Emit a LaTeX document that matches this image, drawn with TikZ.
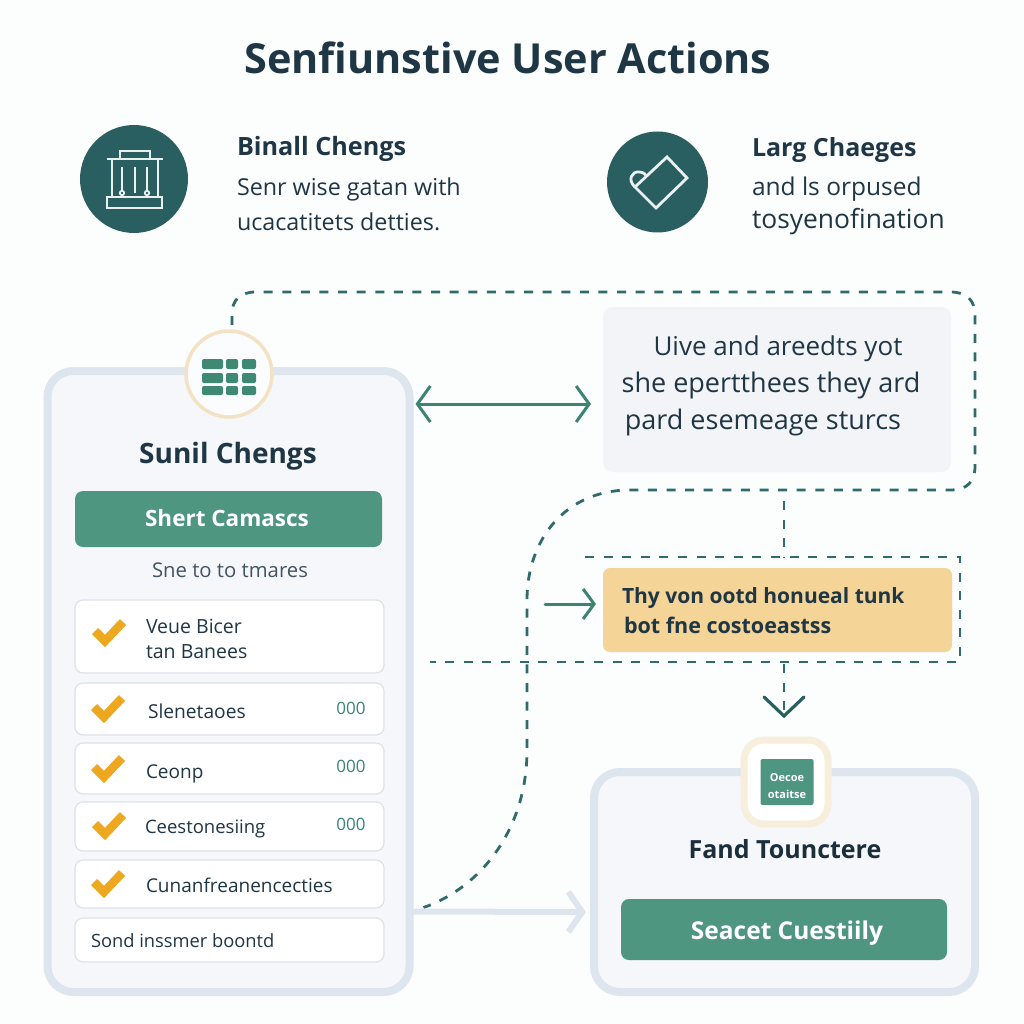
\documentclass[tikz,border=0pt]{standalone}
\usepackage{fontspec}
\setmainfont{Open Sans}
\usetikzlibrary{arrows.meta}
\definecolor{ink}{HTML}{1F3645}
\definecolor{teal}{HTML}{2A5F61}
\definecolor{dashc}{HTML}{2F6B6B}
\definecolor{green}{HTML}{4F9680}
\definecolor{arrowg}{HTML}{3B8470}
\definecolor{pale}{HTML}{DDE6EE}
\definecolor{panelf}{HTML}{F6F7FA}
\definecolor{msgf}{HTML}{F3F4F7}
\definecolor{rowb}{HTML}{DDE2E9}
\definecolor{gold}{HTML}{EDA81F}
\definecolor{sand}{HTML}{F5D498}
\definecolor{ring}{HTML}{F3E3C4}
\definecolor{icong}{HTML}{3F8872}
\tikzset{
 px/.style={outer sep=0pt,inner sep=0pt},
 txt/.style={px,text=ink,anchor=west,align=left,yshift=-2pt},
 mid/.style={px,text=ink,anchor=center,align=center,yshift=-2pt},
 panel/.style={px,draw=pale,line width=8pt,fill=panelf,rounded corners=26pt},
 bar/.style={px,fill=green,rounded corners=8pt},
 rowbox/.style={px,draw=rowb,line width=1.2pt,fill=white,rounded corners=8pt},
 disc/.style={px,circle,fill=teal},
 flow/.style={dashc,line width=2.8pt,dash pattern=on 9pt off 9.6pt},
 barb/.style={arrowg,line width=3pt,line cap=round},
 checkm/.style={gold,line width=8.5pt,line join=miter},
 iconl/.style={white!90!teal,line width=2.8pt}
}
\newcommand{\rowcheck}[2]{\draw[checkm] (#1-13,#2-3) -- (#1-3,#2+7) -- (#1+15,#2-12);}
\begin{document}
\begin{tikzpicture}[x=1pt,y=-1pt]
\useasboundingbox (0,0) rectangle (1024,1024);
\fill[white!70!panelf] (0,0) rectangle (1024,1024);

% title
\node[mid,font=\bfseries\fontsize{41.4}{46}\selectfont,text=ink] (title) at (508,56) {Senfiunstive User Actions};

% top icons
\node[disc,minimum size=108pt] (disc1) at (134,179) {};
\draw[iconl] (120,159) -- (120,151) -- (150,151) -- (150,159);
\draw[iconl] (107,159) -- (163,159);
\draw[iconl] (112,159) -- (112,197) (158,159) -- (158,197);
\draw[iconl] (122,167) -- (122,192) (135,167) -- (135,193) (147,167) -- (147,192);
\draw[iconl] (107,197) rectangle (162,208);
\draw[iconl,line width=1.8pt] (122,193) circle (2.2) (147,193) circle (2.2);
\node[disc,minimum size=101pt] (disc2) at (657.5,182) {};
\draw[iconl] (667,157) -- (687,178) -- (656,208) -- (635,187) -- cycle;
\draw[iconl] (635,187) .. controls (627,180) and (632,171) .. (639,172) .. controls (644,172) and (646,175) .. (647,177);

\node[txt,font=\bfseries\fontsize{25.2}{30}\selectfont] (h1) at (237,147) {Binall Chengs};
\node[txt,font=\fontsize{23.3}{30}\selectfont] (b1a) at (237,187) {Senr wise gatan with};
\node[txt,font=\fontsize{23.3}{30}\selectfont] (b1b) at (237,220) {ucacatitets detties.};
\node[txt,font=\bfseries\fontsize{25}{30}\selectfont] (h2) at (752,148) {Larg Chaeges};
\node[txt,font=\fontsize{24.5}{30}\selectfont] (b2a) at (752,187) {and ls orpused};
\node[txt,font=\fontsize{26.4}{30}\selectfont] (b2b) at (752,220) {tosyenofination};

% left panel
\node[panel,minimum width=362pt,minimum height=621pt] (leftp) at (228.5,681.5) {};
\node[px,circle,draw=ring,line width=3.5pt,fill=white!60!panelf,minimum size=86pt] (badge) at (229,374) {};
\foreach \y/\h in {359/10,373/10,386/9}{
 \fill[icong,rounded corners=2pt] (202,\y) rectangle (223,\y+\h);
 \fill[icong,rounded corners=2pt] (226,\y) rectangle (238,\y+\h);
 \fill[icong,rounded corners=2pt] (242,\y) rectangle (256,\y+\h);
}
\node[mid,font=\bfseries\fontsize{28}{32}\selectfont] (lt) at (228,454) {Sunil Chengs};
\node[bar,minimum width=307pt,minimum height=56pt] (lbar) at (228.5,519) {};
\node[mid,text=white,font=\bfseries\fontsize{22.5}{28}\selectfont] (lbart) at (227,516) {Shert Camascs};
\node[mid,font=\fontsize{20.3}{24}\selectfont,text=ink!85] (lsub) at (230,568) {Sne to to tmares};

\node[rowbox,minimum width=309pt,minimum height=73pt] (r1) at (229.5,636.5) {};
\node[rowbox,minimum width=309pt,minimum height=52pt] (r2) at (229.5,709) {};
\node[rowbox,minimum width=309pt,minimum height=51pt] (r3) at (229.5,768.5) {};
\node[rowbox,minimum width=309pt,minimum height=49pt] (r4) at (229.5,826.5) {};
\node[rowbox,minimum width=309pt,minimum height=48pt] (r5) at (229.5,884) {};
\node[rowbox,minimum width=309pt,minimum height=44pt] (r6) at (229.5,940) {};
\rowcheck{108}{634}
\rowcheck{107}{710}
\rowcheck{107}{770}
\rowcheck{108}{827}
\rowcheck{107}{885}
\node[txt,font=\fontsize{19.5}{24}\selectfont] (t1a) at (146,624) {Veue Bicer};
\node[txt,font=\fontsize{19.5}{24}\selectfont] (t1b) at (146,650) {tan Banees};
\node[txt,font=\fontsize{19.2}{24}\selectfont] (t2) at (148,709) {Slenetaoes};
\node[txt,font=\fontsize{19}{24}\selectfont] (t3) at (146,772) {Ceonp};
\node[txt,font=\fontsize{18.5}{24}\selectfont] (t4) at (145,827) {Ceestonesiing};
\node[txt,font=\fontsize{19}{24}\selectfont] (t5) at (146,883) {Cunanfreanencecties};
\node[txt,font=\fontsize{18.3}{24}\selectfont] (t6) at (91,939) {Sond inssmer boontd};
\node[mid,text=arrowg,font=\fontsize{17}{20}\selectfont] (n2) at (351,706) {000};
\node[mid,text=arrowg,font=\fontsize{17}{20}\selectfont] (n3) at (351,764) {000};
\node[mid,text=arrowg,font=\fontsize{17}{20}\selectfont] (n4) at (351,822) {000};

% right boxes
\node[px,fill=msgf,rounded corners=10pt,minimum width=348pt,minimum height=165pt] (msg) at (777,389.5) {};
\node[mid,font=\fontsize{26}{30}\selectfont] (m1) at (778,347) {Uive and areedts yot};
\node[mid,font=\fontsize{27}{30}\selectfont] (m2) at (771,383) {she epertthees they ard};
\node[mid,font=\fontsize{27}{30}\selectfont] (m3) at (763,420) {pard esemeage sturcs};
\node[px,fill=sand,rounded corners=7pt,minimum width=349pt,minimum height=84pt] (warn) at (777.5,610) {};
\node[txt,font=\bfseries\fontsize{21}{26}\selectfont] (w1) at (622,596) {Thy von ootd honueal tunk};
\node[txt,font=\bfseries\fontsize{21.5}{26}\selectfont] (w2) at (624,623) {bot fne costoeastss};

% bottom right panel
\node[panel,minimum width=381pt,minimum height=220pt] (endp) at (784.5,882) {};
\node[px,draw=ring!60!white,line width=7pt,fill=white,rounded corners=20pt,minimum size=84pt] (ebadge) at (786,782) {};
\node[px,fill=green,rounded corners=2pt,minimum width=53pt,minimum height=46pt] (einner) at (787,782) {};
\node[mid,text=white,font=\bfseries\fontsize{11}{17}\selectfont] (einnert) at (787,784) {Oecoe\\otaitse};
\node[mid,font=\bfseries\fontsize{25}{30}\selectfont,text=ink!85!black] (et) at (785,847) {Fand Tounctere};
\node[bar,minimum width=326pt,minimum height=61pt] (ebar) at (784,929.5) {};
\node[mid,text=white,font=\bfseries\fontsize{24.5}{30}\selectfont] (ebart) at (787,931) {Seacet Cuestiily};

% connectors
\draw[flow] ([xshift=3pt,yshift=6pt]badge.north) -- (232,314) .. controls (232,300) and (240,292) .. (256,292) -- (950,292) .. controls (967,292) and (975,300) .. (975,316) -- (975,466) .. controls (975,482) and (967,490) .. (950,490) -- (630,490) .. controls (565,490) and (527,540) .. (527,600) -- (527,750) .. controls (527,830) and (480,888) .. ([xshift=14pt,yshift=-226pt]leftp.east);
\coordinate (boxa) at (585,557);
\coordinate (boxb) at (960,557);
\coordinate (boxc) at (960,662);
\coordinate (boxd) at (430,662);
\draw[flow] (boxa) -- (boxb) -- (boxc) -- (boxd);
\coordinate (v1) at (784,501);
\coordinate (v2) at (784,557);
\coordinate (v3) at (784,664);
\coordinate (v4) at (784,712);
\draw[flow] (v1) -- (v2);
\draw[flow] (v3) -- (v4);

\draw[barb,{Straight Barb[length=13pt,width=36pt,line width=3pt]}-{Straight Barb[length=13pt,width=36pt,line width=3pt]}] ([xshift=6pt,yshift=277.5pt]leftp.east) -- ([yshift=-14.5pt,xshift=-12pt]msg.west);
\coordinate (a0) at (545,604);
\draw[barb,-{Straight Barb[length=11pt,width=30pt,line width=3pt]}] (a0) -- ([yshift=6pt,xshift=-7pt]warn.west);
\draw[pale,line width=6pt,line cap=round,-{Straight Barb[length=14pt,width=40pt,line width=6pt]}] ([yshift=-230pt,xshift=2pt]leftp.east) -- ([yshift=-30pt,xshift=-8pt]endp.west);
\coordinate (ch1) at (764,697);
\coordinate (ch2) at (784,716);
\coordinate (ch3) at (804,697);
\draw[teal,line width=3.2pt,line cap=round] (ch1) -- (ch2) -- (ch3);
\end{tikzpicture}
\end{document}
